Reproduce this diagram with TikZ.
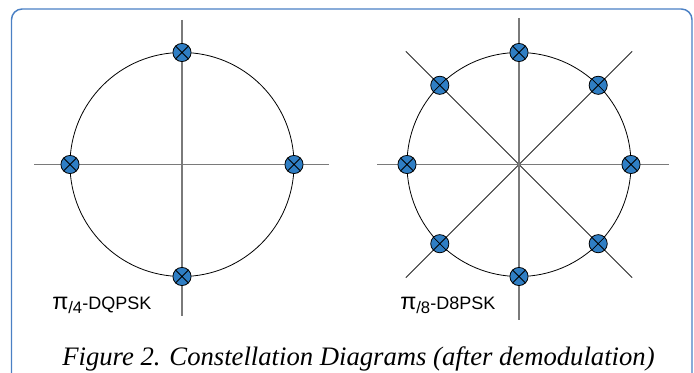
\documentclass[tikz,border=0pt]{standalone}
\usepackage{fontspec}
\setmainfont{Liberation Serif}
\setsansfont{Liberation Sans}
\usetikzlibrary{positioning}
\definecolor{ptblue}{HTML}{2F7EC4}
\definecolor{frameblue}{HTML}{4A80C4}
\definecolor{axisgray}{HTML}{7A7A7A}
\tikzset{
  frame/.style={draw=frameblue, line width=1.1pt, rounded corners=8pt},
  axis/.style={draw=axisgray, line width=1.1pt},
  ring/.style={draw=black, line width=0.6pt},
  diag/.style={draw=black!85, line width=0.6pt},
  symbol/.style={circle, draw=black, fill=ptblue, line width=0.6pt, minimum size=13.6pt, inner sep=0pt},
  crossline/.style={draw=black, line width=0.6pt},
  modlabel/.style={anchor=base west, inner sep=0pt, font=\sffamily\fontsize{13.5}{16}\selectfont},
  caption/.style={anchor=base, inner sep=0pt, font=\itshape\fontsize{20}{24}\selectfont}
}
\newcommand{\pifrac}[1]{{\fontsize{17.5}{18}\selectfont π}\raisebox{-2.8pt}{\fontsize{12.5}{13}\selectfont/#1}}

\begin{document}
\begin{tikzpicture}[x=0.75pt,y=-0.75pt]
  \useasboundingbox (0,0) rectangle (694,373);
  \clip (0,0) rectangle (694,373);
  \draw[frame] (11.5,9) rectangle (692,395);

  % pi/4-DQPSK
  \begin{scope}[shift={(182,164.5)}]
    \coordinate (qc) at (0,0);
    \coordinate (qw) at (-148,0);
    \coordinate (qe) at (147,0);
    \coordinate (qn) at (0,-144.5);
    \coordinate (qs) at (0,151.5);
    \draw[axis] (qw) -- (qe);
    \draw[axis] (qn) -- (qs);
    \draw[ring] (qc) circle[radius=112];
    \foreach \a in {0,90,180,270}{
      \node[symbol] (q\a) at (\a:112) {};
      \draw[crossline] (q\a.north east) -- (q\a.south west) (q\a.north west) -- (q\a.south east);
    }
  \end{scope}
  \node[modlabel] (qlabel) at (52,309.5) {\pifrac{4}-DQPSK};

  % pi/8-D8PSK
  \begin{scope}[shift={(519,164.5)}]
    \coordinate (dc) at (0,0);
    \coordinate (dw) at (-142,0);
    \coordinate (de) at (150,0);
    \coordinate (dn) at (0,-146.5);
    \coordinate (ds) at (0,155.5);
    \foreach \a in {45,135,225,315}
      \coordinate (d\a) at (\a:160);
    \draw[diag] (d45) -- (d225);
    \draw[diag] (d135) -- (d315);
    \draw[axis] (dw) -- (de);
    \draw[axis] (dn) -- (ds);
    \draw[ring] (dc) circle[radius=112];
    \foreach \a in {0,45,...,315}{
      \node[symbol] (p\a) at (\a:112) {};
      \draw[crossline] (p\a.north east) -- (p\a.south west) (p\a.north west) -- (p\a.south east);
    }
  \end{scope}
  \node[modlabel] (dlabel) at (400,310) {\pifrac{8}-D8PSK};

  \node[caption] (figcap) at (358.5,366) {Figure 2. Constellation Diagrams (after demodulation)};
\end{tikzpicture}
\end{document}
